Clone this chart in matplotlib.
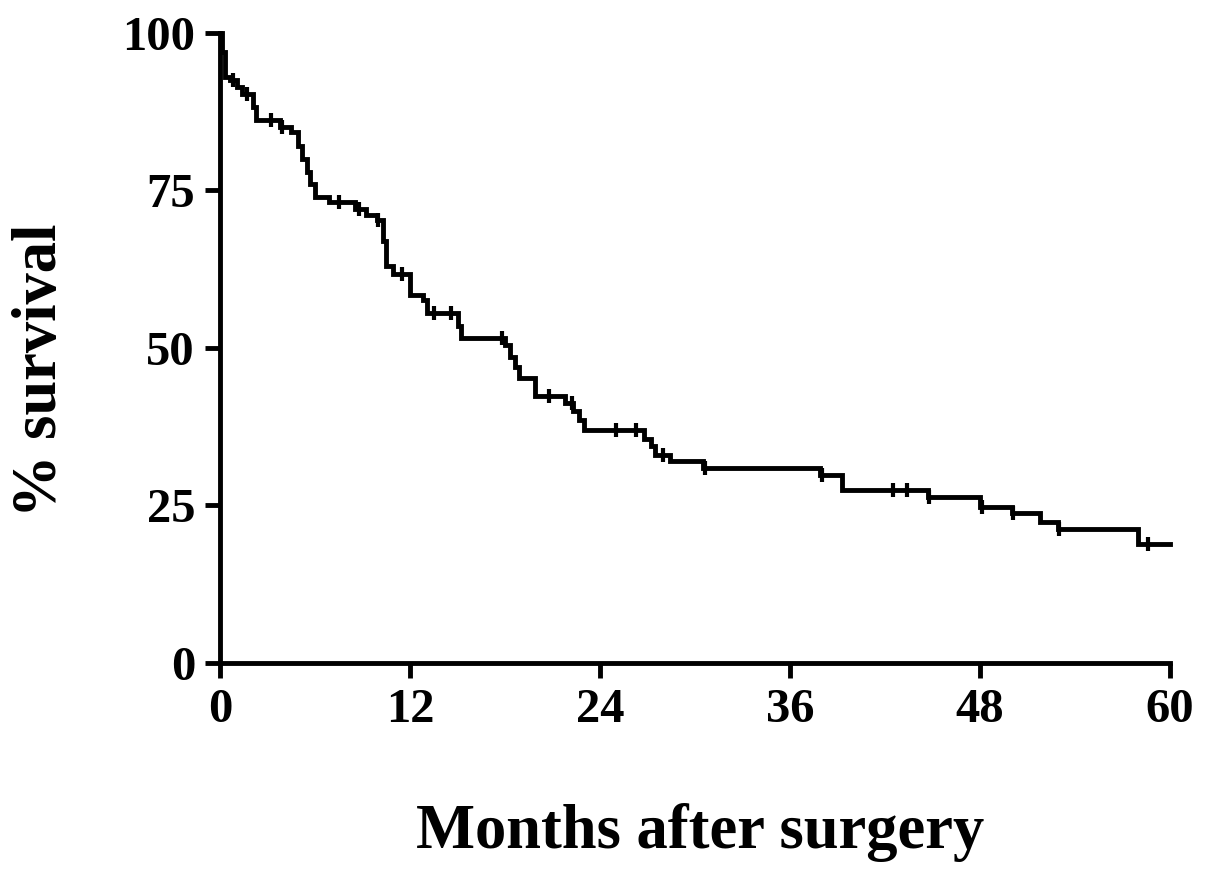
import numpy as np
import matplotlib.pyplot as plt

# step points of the Kaplan-Meier curve (months, % survival after the step)
event_months = [0, 0.15, 0.3, 0.6, 1.1, 1.4, 2.1, 2.3, 3.8, 4.5, 4.9, 5.2, 5.5, 5.7,
                6.0, 6.9, 8.5, 9.2, 9.9, 10.3, 10.5, 10.9, 12.0, 12.8, 13.1, 15.0,
                15.2, 18.0, 18.3, 18.6, 18.9, 19.9, 21.8, 22.3, 22.7, 23.0, 26.8,
                27.2, 27.5, 28.4, 30.5, 37.9, 39.3, 44.7, 48.0, 50.0, 51.8, 52.9,
                58.0, 60.0]
survival_pct = [100, 97, 93, 92.5, 91.4, 90.3, 88.3, 86.2, 85.0, 84.3, 82, 80, 78, 76,
                74, 73.2, 72, 71.1, 70.3, 67, 63, 61.8, 58.4, 57.6, 55.5, 53.5,
                51.6, 50.5, 48.5, 47, 45.2, 42.3, 41.3, 40, 38.5, 37, 35.5,
                34.5, 33, 32, 31, 29.8, 27.4, 26.4, 24.8, 23.8, 22.3, 21.3,
                18.9, 18.9]

# censored observations (months)
censor_months = [0.8, 1.7, 3.2, 3.9, 7.5, 8.8, 10.0, 11.5, 13.5, 14.6, 17.8, 20.8,
                 22.2, 25.0, 26.3, 28.0, 30.6, 38.0, 42.5, 43.4, 44.8, 48.1, 50.1,
                 53.0, 58.6]

x_ticks = [0, 12, 24, 36, 48, 60]
y_ticks = [0, 25, 50, 75, 100]

plt.rcParams['font.family'] = ['Liberation Serif', 'DejaVu Serif']
plt.rcParams['font.weight'] = 'bold'

fig = plt.figure(figsize=(12.05, 8.75), dpi=100)
ax = fig.add_axes([0.1826, 0.2423, 0.7884, 0.72])

ax.step(event_months, survival_pct, where='post', color='black', lw=3.5,
        solid_joinstyle='miter', clip_on=False)

idx = np.searchsorted(event_months, censor_months, side='right') - 1
censor_levels = np.array(survival_pct)[idx]
ax.plot(censor_months, censor_levels, linestyle='none', marker='|',
        markersize=10, markeredgewidth=3, color='black')

ax.set_xlim(0, 60)
ax.set_ylim(0, 100)
ax.set_xticks(x_ticks)
ax.set_yticks(y_ticks)
ax.tick_params(axis='both', direction='out', length=11, width=3.5,
               labelsize=35, pad=7)
for lab in ax.get_xticklabels() + ax.get_yticklabels():
    lab.set_fontweight('bold')

for side in ['top', 'right']:
    ax.spines[side].set_visible(False)
for side in ['left', 'bottom']:
    ax.spines[side].set_linewidth(3.5)

ax.set_xlabel('Months after surgery', fontsize=45, fontweight='bold')
ax.xaxis.set_label_coords(0.505, -0.222)
ax.set_ylabel('% survival', fontsize=45, fontweight='bold')
ax.yaxis.set_label_coords(-0.158, 0.465)

fig.savefig('out.png', dpi=100)
